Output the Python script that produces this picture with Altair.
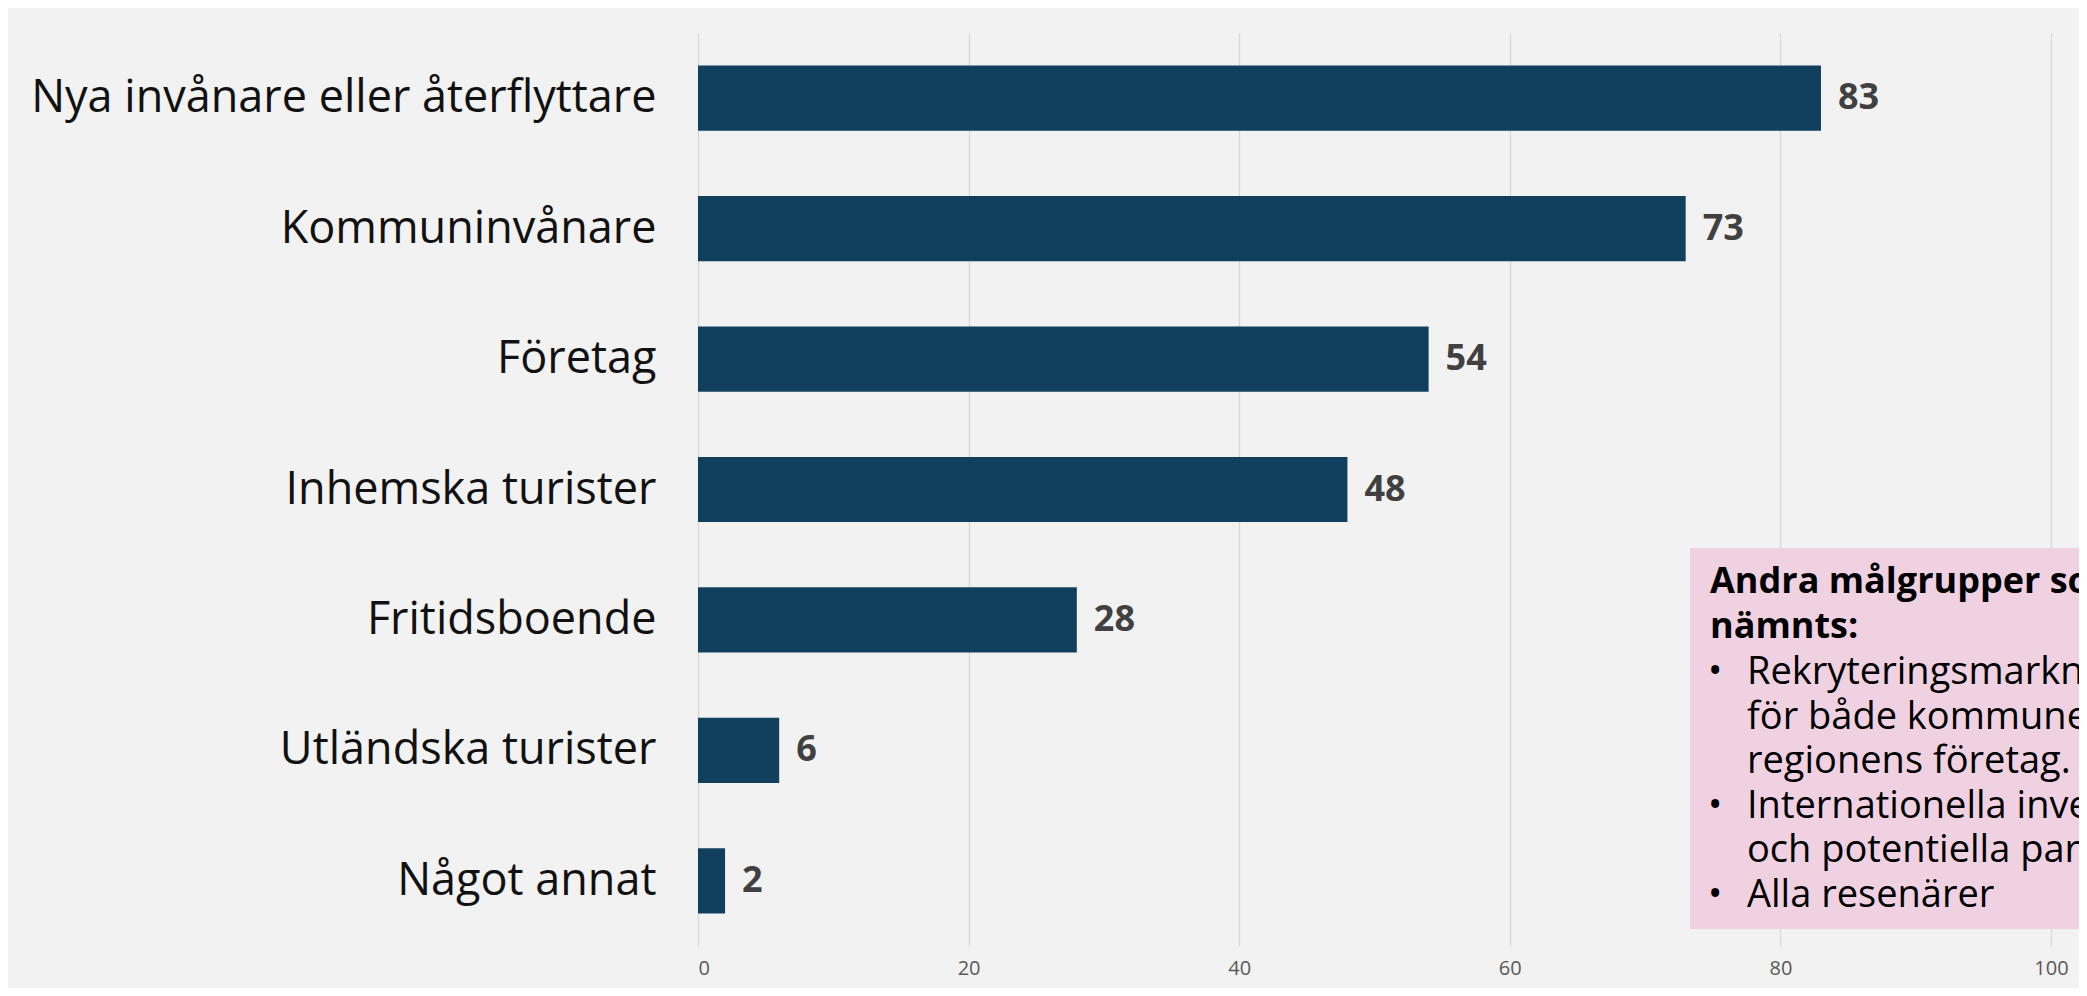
import altair as alt
import pandas as pd

categories = [
    "Nya invånare eller återflyttare",
    "Kommuninvånare",
    "Företag",
    "Inhemska turister",
    "Fritidsboende",
    "Utländska turister",
    "Något annat",
]
values = [83, 73, 54, 48, 28, 6, 2]
x_ticks = [0, 20, 40, 60, 80, 100]

note_title = ["Andra målgrupper som", "nämnts:"]
note_lines = [
    "Rekryteringsmarknadsföring",
    "för både kommunen och",
    "regionens företag.",
    "Internationella investerare",
    "och potentiella partners",
    "Alla resenärer",
]
bullet_rows = [0, 3, 5]

df = pd.DataFrame({"kategori": categories, "antal": values})

FONT = "Open Sans"
BAR = "#11405f"
PINK = "#efd1e2"
LINE_H = 44.6
BODY_Y = 651

x_scale = alt.Scale(domain=[0, 102.07], nice=False, zero=True)
y_scale = alt.Scale(paddingInner=0.5, paddingOuter=0.25)

base = alt.Chart(df)

bars = base.mark_bar(color=BAR).encode(
    x=alt.X(
        "antal:Q",
        scale=x_scale,
        axis=alt.Axis(
            values=x_ticks,
            title=None,
            grid=True,
            gridColor="#d6d6d6",
            gridWidth=1.2,
            domain=False,
            ticks=False,
            labelFontSize=20,
            labelFont=FONT,
            labelColor="#595959",
            labelPadding=12,
        ),
    ),
    y=alt.Y(
        "kategori:N",
        sort=categories,
        scale=y_scale,
        axis=alt.Axis(
            title=None,
            domain=False,
            ticks=False,
            labelFontSize=45,
            labelFont=FONT,
            labelColor="#111111",
            labelPadding=42,
            labelLimit=1200,
        ),
    ),
)

labels = base.mark_text(
    align="left",
    baseline="middle",
    dx=17,
    font=FONT,
    fontSize=36,
    fontWeight="bold",
    color="#404040",
).encode(
    x=alt.X("antal:Q", scale=x_scale),
    y=alt.Y("kategori:N", sort=categories, scale=y_scale),
    text=alt.Text("antal:Q"),
)

one = pd.DataFrame({"d": [0]})

box = alt.Chart(one).mark_rect(color=PINK).encode(
    x=alt.value(992), x2=alt.value(1500), y=alt.value(515), y2=alt.value(896)
)

title_txt = alt.Chart(one).mark_text(
    align="left",
    baseline="alphabetic",
    font=FONT,
    fontSize=36,
    fontWeight="bold",
    color="#000000",
    lineHeight=45,
).encode(x=alt.value(1012), y=alt.value(560), text=alt.value(note_title))

bullet_layers = [
    alt.Chart(one).mark_text(
        align="left",
        baseline="alphabetic",
        font=FONT,
        fontSize=38,
        color="#000000",
    ).encode(x=alt.value(1010), y=alt.value(BODY_Y + r * LINE_H), text=alt.value("•"))
    for r in bullet_rows
]

body_txt = alt.Chart(one).mark_text(
    align="left",
    baseline="alphabetic",
    font=FONT,
    fontSize=38,
    color="#000000",
    lineHeight=LINE_H,
).encode(x=alt.value(1049), y=alt.value(BODY_Y), text=alt.value(note_lines))

chart = (
    alt.layer(bars, labels, box, title_txt, *bullet_layers, body_txt)
    .properties(
        width=1381,
        height=913,
        background="#f2f2f2",
        autosize=alt.AutoSizeParams(type="none"),
        padding={"left": 690, "top": 25, "right": 0, "bottom": 42},
    )
    .configure_view(stroke=None)
)

chart.save("out.html", embed_options={"renderer": "svg", "actions": False})
